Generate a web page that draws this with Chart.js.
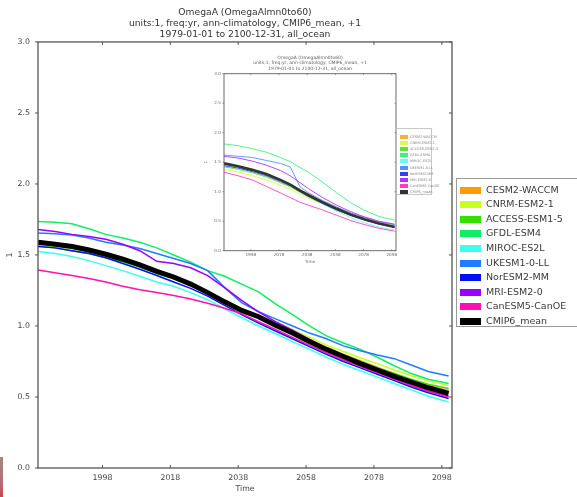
<!DOCTYPE html>
<html><head><meta charset="utf-8">
<script src="https://cdn.jsdelivr.net/npm/chart.js@4"></script>
<style>
html,body{margin:0;padding:0;background:#fff;}
#wrap{position:relative;width:577px;height:497px;overflow:hidden;font-family:"DejaVu Sans",sans-serif;background:#fff;}
#main{position:absolute;left:0;top:0;}
#insetBox{position:absolute;left:200px;top:52px;width:240px;height:214px;opacity:0.8;}
#legend{position:absolute;left:456px;top:178px;width:130px;height:149px;border:1px solid #9a9a9a;background:#fff;box-sizing:border-box;}
#legend .row{position:absolute;left:0;height:12px;}
#legend .sw{position:absolute;left:3px;top:3px;width:21px;height:7px;}
#legend .tx{position:absolute;left:29px;top:-1px;font-size:9.5px;line-height:14px;color:#3a3a3a;white-space:nowrap;}
#ilegend{position:absolute;left:396px;top:128px;width:36px;height:67px;border:0.6px solid #bbb;background:#fff;box-sizing:border-box;opacity:0.8;}
#ilegend .row{position:absolute;left:0;height:6px;}
#ilegend .sw{position:absolute;left:3px;top:1px;width:8px;height:4px;}
#ilegend .tx{position:absolute;left:13px;top:0;font-size:3.5px;line-height:6px;color:#666;white-space:nowrap;}
#strip{position:absolute;left:0;top:457px;width:3px;height:40px;background:linear-gradient(#a08a7e,#b86a70 70%,#d04050);}
</style>
</head><body>
<div id="wrap">
  <canvas id="main" width="577" height="497"></canvas>
  <div id="insetBox"><canvas id="inset" width="240" height="214"></canvas></div>
  <div id="legend"></div>
  <div id="ilegend"></div>
  <div id="strip"></div>
</div>
<script>
// ---------------- data ----------------
const years = [1979,1984,1989,1994,1999,2004,2009,2014,2019,2024,2029,2034,2039,2044,2049,2054,2059,2064,2069,2074,2079,2084,2089,2094,2100];
const modelNames = ['CESM2-WACCM','CNRM-ESM2-1','ACCESS-ESM1-5','GFDL-ESM4','MIROC-ES2L','UKESM1-0-LL','NorESM2-MM','MRI-ESM2-0','CanESM5-CanOE','CMIP6_mean'];
const xTickValues = [1998,2018,2038,2058,2078,2098];
const yTickValues = [0,0.5,1.0,1.5,2.0,2.5,3.0];

const cesm2Waccm = [1.60,1.585,1.57,1.545,1.51,1.475,1.44,1.395,1.35,1.30,1.245,1.18,1.12,1.07,1.015,0.96,0.905,0.85,0.80,0.755,0.71,0.665,0.62,0.58,0.545];
const cnrmEsm2   = [1.575,1.56,1.545,1.52,1.49,1.455,1.42,1.38,1.34,1.295,1.24,1.18,1.125,1.075,1.025,0.975,0.92,0.865,0.82,0.775,0.735,0.69,0.65,0.615,0.58];
const accessEsm  = [1.565,1.55,1.53,1.51,1.48,1.45,1.415,1.37,1.33,1.285,1.23,1.17,1.11,1.055,1.0,0.95,0.895,0.845,0.795,0.75,0.705,0.665,0.625,0.59,0.56];
const gfdlEsm4   = [1.735,1.73,1.72,1.685,1.645,1.62,1.59,1.55,1.50,1.45,1.39,1.35,1.295,1.24,1.155,1.08,1.00,0.93,0.88,0.835,0.78,0.72,0.665,0.625,0.595];
const mirocEs2l  = [1.525,1.51,1.49,1.46,1.425,1.39,1.35,1.31,1.28,1.235,1.185,1.12,1.06,1.00,0.945,0.89,0.835,0.78,0.73,0.685,0.64,0.595,0.55,0.505,0.465];
const ukesm1     = [1.655,1.65,1.64,1.62,1.59,1.57,1.545,1.51,1.475,1.44,1.39,1.27,1.165,1.10,1.05,1.00,0.95,0.91,0.86,0.825,0.795,0.77,0.725,0.68,0.648];
const norEsm2    = [1.56,1.55,1.53,1.51,1.48,1.44,1.40,1.355,1.31,1.265,1.21,1.145,1.08,1.02,0.965,0.91,0.855,0.80,0.75,0.705,0.66,0.615,0.57,0.53,0.49];
const mriEsm2    = [1.68,1.665,1.645,1.63,1.61,1.575,1.53,1.455,1.44,1.41,1.355,1.27,1.18,1.10,1.03,0.97,0.905,0.84,0.785,0.73,0.68,0.63,0.58,0.54,0.505];
const canEsm5    = [1.395,1.375,1.355,1.335,1.31,1.28,1.255,1.235,1.215,1.19,1.16,1.125,1.085,1.03,0.975,0.92,0.865,0.81,0.76,0.715,0.67,0.625,0.58,0.54,0.50];
const cmip6Mean  = [1.59,1.575,1.56,1.535,1.505,1.47,1.43,1.385,1.345,1.295,1.235,1.17,1.11,1.065,1.005,0.95,0.89,0.835,0.785,0.735,0.69,0.645,0.605,0.565,0.525];

// inset chart
const insetYears = [1979,1989,1999,2009,2019,2026,2033,2039,2049,2059,2069,2079,2089,2100];
const inCesm   = [1.46,1.42,1.36,1.29,1.20,1.13,1.04,0.96,0.84,0.73,0.63,0.55,0.48,0.43];
const inCnrm   = [1.38,1.33,1.27,1.20,1.11,1.04,0.96,0.89,0.79,0.69,0.60,0.53,0.47,0.42];
const inAccess = [1.42,1.38,1.32,1.25,1.15,1.08,0.99,0.91,0.80,0.70,0.61,0.53,0.46,0.41];
const inGfdl   = [1.81,1.78,1.73,1.67,1.58,1.51,1.41,1.33,1.16,0.98,0.81,0.68,0.58,0.52];
const inMiroc  = [1.44,1.40,1.35,1.28,1.19,1.11,1.00,0.92,0.79,0.67,0.56,0.47,0.40,0.35];
const inUkesm  = [1.62,1.60,1.58,1.53,1.48,1.42,1.08,0.98,0.85,0.74,0.64,0.56,0.49,0.44];
const inNoresm = [1.44,1.40,1.34,1.27,1.17,1.10,1.00,0.92,0.80,0.69,0.60,0.52,0.45,0.40];
const inMri    = [1.60,1.57,1.52,1.45,1.36,1.27,1.15,1.05,0.90,0.77,0.66,0.57,0.50,0.45];
const inCanesm = [1.33,1.27,1.20,1.09,0.98,0.90,0.82,0.77,0.69,0.60,0.51,0.44,0.38,0.33];
const inMean   = [1.48,1.43,1.37,1.30,1.20,1.12,1.02,0.94,0.82,0.71,0.61,0.53,0.46,0.40];

const titleLines = ['OmegaA (OmegaAlmn0to60)','units:1, freq:yr, ann-climatology, CMIP6_mean, +1','1979-01-01 to 2100-12-31, all_ocean'];

// ---------------- styles ----------------
const colors = ['#ff9a00','#c8ff1e','#33e000','#10ee66','#3cfff0','#1e7cff','#0010ee','#9a00ff','#ff10b4','#000000'];
const mainSeries = [cesm2Waccm,cnrmEsm2,accessEsm,gfdlEsm4,mirocEs2l,ukesm1,norEsm2,mriEsm2,canEsm5,cmip6Mean];
const insetSeries = [inCesm,inCnrm,inAccess,inGfdl,inMiroc,inUkesm,inNoresm,inMri,inCanesm,inMean];

const framePlugin = {
  id:'frame',
  afterDatasetsDraw(chart, args, o){
    const {ctx, chartArea:{left,top,right,bottom}, scales:{x,y}} = chart;
    ctx.save();
    ctx.strokeStyle = o.color; ctx.lineWidth = o.width;
    ctx.strokeRect(left, top, right-left, bottom-top);
    ctx.lineWidth = o.tickWidth;
    ctx.beginPath();
    x.ticks.forEach(t=>{const px=x.getPixelForValue(t.value);
      ctx.moveTo(px,bottom); ctx.lineTo(px,bottom-o.tick);
      ctx.moveTo(px,top); ctx.lineTo(px,top+o.tick);});
    y.ticks.forEach(t=>{const py=y.getPixelForValue(t.value);
      ctx.moveTo(left,py); ctx.lineTo(left-o.tick,py);
      ctx.moveTo(right,py); ctx.lineTo(right-o.tick,py);});
    ctx.stroke();
    ctx.restore();
  }
};

function buildDatasets(xs, series, thin, thick){
  return series.map((vals,i)=>({
    label:modelNames[i],
    data:vals.map((v,j)=>({x:xs[j], y:v})),
    borderColor:colors[i],
    backgroundColor:colors[i],
    borderWidth: i===series.length-1 ? thick : thin,
    pointRadius:0,
    tension:0,
    fill:false,
    order: i===series.length-1 ? 0 : 10-i
  }));
}

function makeOptions(c){
  return {
    responsive:false, animation:false, devicePixelRatio:1,
    layout:{padding:{left:0,right:c.padRight,top:0,bottom:0}},
    plugins:{
      legend:{display:false}, tooltip:{enabled:false},
      title:{display:true, fullSize:false, text:titleLines, color:'#333',
        font:{family:'DejaVu Sans', size:c.titleSize, weight:'normal', lineHeight:c.titleLH},
        padding:{top:c.titleTop,bottom:c.titleBottom}},
      frame:{color:c.frameColor, width:c.frameWidth, tick:c.tick, tickWidth:c.tickWidth}
    },
    scales:{
      x:{type:'linear', min:1979, max:2101,
        afterBuildTicks(s){ s.ticks = xTickValues.map(v=>({value:v})); },
        afterFit(s){ s.height = c.xHeight; },
        grid:{display:false, drawTicks:false}, border:{display:false},
        ticks:{color:'#444', font:{family:'DejaVu Sans', size:c.tickSize}, padding:c.xPad, maxRotation:0, autoSkip:false,
          callback:v=>String(v)},
        title:{display:true, text:'Time', color:'#444', font:{family:'DejaVu Sans', size:c.tickSize}, padding:{top:0,bottom:c.xTitlePad}}
      },
      y:{type:'linear', min:0, max:3,
        afterBuildTicks(s){ s.ticks = yTickValues.map(v=>({value:v})); },
        afterFit(s){ s.width = c.yWidth; },
        grid:{display:false, drawTicks:false}, border:{display:false},
        ticks:{color:'#444', font:{family:'DejaVu Sans', size:c.tickSize}, padding:c.yPad, callback:v=>Number(v).toFixed(1)},
        title:{display:true, text:'1', color:'#444', font:{family:'DejaVu Sans', size:c.tickSize}, padding:{top:c.yTitlePad,bottom:0}}
      }
    }
  };
}

new Chart(document.getElementById('main'), {
  type:'line',
  data:{datasets:buildDatasets(years, mainSeries, 1.5, 5)},
  options:makeOptions({padRight:125, titleSize:9.2, titleLH:1.23, titleTop:6.5, titleBottom:1.5,
    frameColor:'#555', frameWidth:1.3, tick:3, tickWidth:1, tickSize:7.8, xHeight:29, xPad:5, xTitlePad:3,
    yWidth:38, yPad:8, yTitlePad:5}),
  plugins:[framePlugin]
});

new Chart(document.getElementById('inset'), {
  type:'line',
  data:{datasets:buildDatasets(insetYears, insetSeries, 0.9, 2.6)},
  options:makeOptions({padRight:44, titleSize:4.5, titleLH:1.2, titleTop:3, titleBottom:2.5,
    frameColor:'#333', frameWidth:0.9, tick:1.5, tickWidth:0.6, tickSize:4.2, xHeight:15.3, xPad:2, xTitlePad:2,
    yWidth:24, yPad:3, yTitlePad:3}),
  plugins:[framePlugin]
});

// legends (HTML text)
function buildLegend(id, rowStart, rowStep){
  const el = document.getElementById(id);
  modelNames.forEach((n,i)=>{
    const r = document.createElement('div'); r.className='row';
    r.style.top = (rowStart + i*rowStep) + 'px';
    const sw = document.createElement('div'); sw.className='sw'; sw.style.background = colors[i];
    const tx = document.createElement('div'); tx.className='tx'; tx.textContent = n;
    r.appendChild(sw); r.appendChild(tx); el.appendChild(r);
  });
}
buildLegend('legend', 4.5, 14.6);
buildLegend('ilegend', 4.5, 6.2);
</script>
</body></html>
